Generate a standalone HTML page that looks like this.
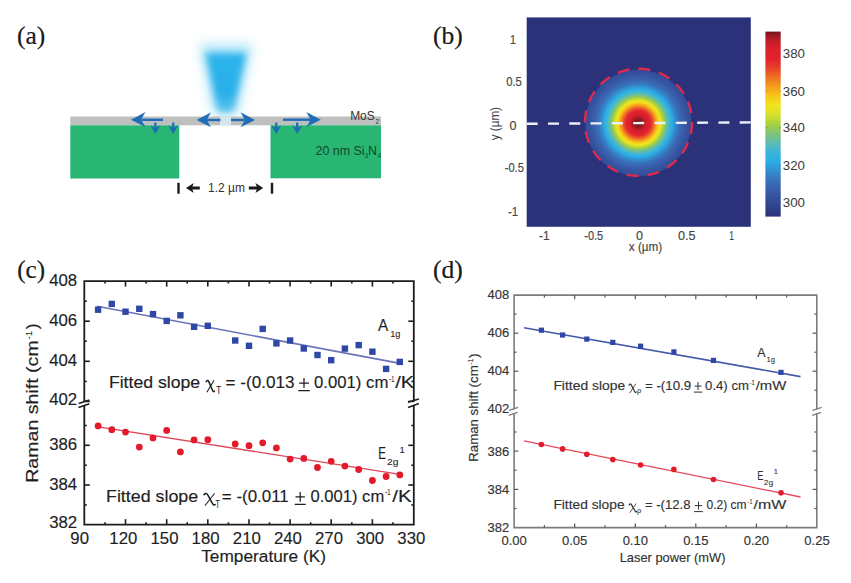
<!DOCTYPE html>
<html><head><meta charset="utf-8"><title>Figure</title>
<style>
html,body{margin:0;padding:0;background:#fff;}
svg{display:block;}
text{font-family:"Liberation Sans",sans-serif;}
.sf{font-family:"Liberation Serif",serif;}
</style></head><body>
<svg width="851" height="583" viewBox="0 0 851 583">
<defs>
<radialGradient id="spot" gradientUnits="userSpaceOnUse" cx="638.3" cy="123" r="53"><stop offset="0.0000" stop-color="#6e1418"/><stop offset="0.0094" stop-color="#6f1418"/><stop offset="0.0189" stop-color="#701419"/><stop offset="0.0283" stop-color="#731519"/><stop offset="0.0377" stop-color="#77151a"/><stop offset="0.0472" stop-color="#7d161c"/><stop offset="0.0566" stop-color="#83171d"/><stop offset="0.0660" stop-color="#8b181f"/><stop offset="0.0755" stop-color="#941921"/><stop offset="0.0849" stop-color="#9b1a23"/><stop offset="0.0943" stop-color="#a21b24"/><stop offset="0.1038" stop-color="#aa1b25"/><stop offset="0.1132" stop-color="#b21c26"/><stop offset="0.1226" stop-color="#bb1d27"/><stop offset="0.1321" stop-color="#c31d28"/><stop offset="0.1415" stop-color="#c81e29"/><stop offset="0.1509" stop-color="#ce1e2a"/><stop offset="0.1604" stop-color="#d41e2b"/><stop offset="0.1698" stop-color="#da1f2c"/><stop offset="0.1792" stop-color="#dd1f2c"/><stop offset="0.1887" stop-color="#de202d"/><stop offset="0.1981" stop-color="#df202d"/><stop offset="0.2075" stop-color="#e0212d"/><stop offset="0.2170" stop-color="#e2212e"/><stop offset="0.2264" stop-color="#e3222e"/><stop offset="0.2358" stop-color="#e4292d"/><stop offset="0.2453" stop-color="#e5322c"/><stop offset="0.2547" stop-color="#e63a2b"/><stop offset="0.2642" stop-color="#e8432a"/><stop offset="0.2736" stop-color="#e94e29"/><stop offset="0.2830" stop-color="#eb5a27"/><stop offset="0.2925" stop-color="#ec6626"/><stop offset="0.3019" stop-color="#ee7224"/><stop offset="0.3113" stop-color="#ef7e22"/><stop offset="0.3208" stop-color="#f18a20"/><stop offset="0.3302" stop-color="#f3961e"/><stop offset="0.3396" stop-color="#f4a21c"/><stop offset="0.3491" stop-color="#f5ad1b"/><stop offset="0.3585" stop-color="#f6b81b"/><stop offset="0.3679" stop-color="#f7c31a"/><stop offset="0.3774" stop-color="#f6cc1b"/><stop offset="0.3868" stop-color="#f4d41c"/><stop offset="0.3962" stop-color="#f3dc1d"/><stop offset="0.4057" stop-color="#f1e41e"/><stop offset="0.4151" stop-color="#e9e322"/><stop offset="0.4245" stop-color="#e1e225"/><stop offset="0.4340" stop-color="#dae129"/><stop offset="0.4434" stop-color="#d0df2e"/><stop offset="0.4528" stop-color="#c5da33"/><stop offset="0.4623" stop-color="#b9d638"/><stop offset="0.4717" stop-color="#add23e"/><stop offset="0.4811" stop-color="#a2ce48"/><stop offset="0.4906" stop-color="#98cb55"/><stop offset="0.5000" stop-color="#8dc863"/><stop offset="0.5094" stop-color="#83c570"/><stop offset="0.5189" stop-color="#7ac37e"/><stop offset="0.5283" stop-color="#72c18c"/><stop offset="0.5377" stop-color="#6abf9a"/><stop offset="0.5472" stop-color="#62bda8"/><stop offset="0.5566" stop-color="#5abbb4"/><stop offset="0.5660" stop-color="#52babd"/><stop offset="0.5755" stop-color="#4ab8c7"/><stop offset="0.5849" stop-color="#43b7d0"/><stop offset="0.5943" stop-color="#3bb6d8"/><stop offset="0.6038" stop-color="#38b4db"/><stop offset="0.6132" stop-color="#34b2de"/><stop offset="0.6226" stop-color="#30b1e1"/><stop offset="0.6321" stop-color="#2dafe4"/><stop offset="0.6415" stop-color="#2aade5"/><stop offset="0.6509" stop-color="#2ca7e1"/><stop offset="0.6604" stop-color="#2da1dd"/><stop offset="0.6698" stop-color="#2f9cd9"/><stop offset="0.6792" stop-color="#3097d5"/><stop offset="0.6887" stop-color="#3292d1"/><stop offset="0.6981" stop-color="#338dce"/><stop offset="0.7075" stop-color="#3488cb"/><stop offset="0.7170" stop-color="#3584c7"/><stop offset="0.7264" stop-color="#3580c4"/><stop offset="0.7358" stop-color="#367cc2"/><stop offset="0.7453" stop-color="#3778bf"/><stop offset="0.7547" stop-color="#3874bc"/><stop offset="0.7642" stop-color="#3871ba"/><stop offset="0.7736" stop-color="#396fb8"/><stop offset="0.7830" stop-color="#396cb6"/><stop offset="0.7925" stop-color="#396ab4"/><stop offset="0.8019" stop-color="#3968b2"/><stop offset="0.8113" stop-color="#3965b0"/><stop offset="0.8208" stop-color="#3a63af"/><stop offset="0.8302" stop-color="#3a61ad"/><stop offset="0.8396" stop-color="#3a5fab"/><stop offset="0.8491" stop-color="#395eaa"/><stop offset="0.8585" stop-color="#395ca8"/><stop offset="0.8679" stop-color="#385ba7"/><stop offset="0.8774" stop-color="#3859a5"/><stop offset="0.8868" stop-color="#3758a4"/><stop offset="0.8962" stop-color="#3757a3"/><stop offset="0.9057" stop-color="#3656a2"/><stop offset="0.9151" stop-color="#3654a0"/><stop offset="0.9245" stop-color="#35539f"/><stop offset="0.9340" stop-color="#35529e"/><stop offset="0.9434" stop-color="#34519d"/><stop offset="0.9528" stop-color="#34509c"/><stop offset="0.9623" stop-color="#344f9b"/><stop offset="0.9717" stop-color="#334e9a"/><stop offset="0.9811" stop-color="#334e9a"/><stop offset="0.9906" stop-color="#334d99"/><stop offset="1.0000" stop-color="#324c98"/></radialGradient>
<linearGradient id="beamg" x1="0" y1="0" x2="0" y2="1"><stop offset="0" stop-color="#2cb4ec"/><stop offset="0.7" stop-color="#28aee8"/><stop offset="1" stop-color="#5cc6f0"/></linearGradient>
<linearGradient id="cbar" x1="0" y1="0" x2="0" y2="1"><stop offset="0.000" stop-color="#6e1418"/><stop offset="0.010" stop-color="#83171d"/><stop offset="0.020" stop-color="#981a22"/><stop offset="0.030" stop-color="#a51b24"/><stop offset="0.040" stop-color="#b31c26"/><stop offset="0.050" stop-color="#c01d28"/><stop offset="0.060" stop-color="#c71e29"/><stop offset="0.070" stop-color="#ce1e2a"/><stop offset="0.080" stop-color="#d51e2b"/><stop offset="0.090" stop-color="#dc1f2c"/><stop offset="0.100" stop-color="#dd202c"/><stop offset="0.110" stop-color="#de202d"/><stop offset="0.120" stop-color="#e0202d"/><stop offset="0.130" stop-color="#e1212d"/><stop offset="0.140" stop-color="#e2222e"/><stop offset="0.150" stop-color="#e3222e"/><stop offset="0.160" stop-color="#e4292d"/><stop offset="0.170" stop-color="#e5302c"/><stop offset="0.180" stop-color="#e6372c"/><stop offset="0.190" stop-color="#e73e2b"/><stop offset="0.200" stop-color="#e8452a"/><stop offset="0.210" stop-color="#e94e29"/><stop offset="0.220" stop-color="#ea5828"/><stop offset="0.230" stop-color="#ec6126"/><stop offset="0.240" stop-color="#ed6b25"/><stop offset="0.250" stop-color="#ee7424"/><stop offset="0.260" stop-color="#ef7d22"/><stop offset="0.270" stop-color="#f08621"/><stop offset="0.280" stop-color="#f28e1f"/><stop offset="0.290" stop-color="#f3971e"/><stop offset="0.300" stop-color="#f4a01c"/><stop offset="0.310" stop-color="#f5a81c"/><stop offset="0.320" stop-color="#f5b01b"/><stop offset="0.330" stop-color="#f6b81b"/><stop offset="0.340" stop-color="#f6c01a"/><stop offset="0.350" stop-color="#f7c81a"/><stop offset="0.360" stop-color="#f6ce1b"/><stop offset="0.370" stop-color="#f5d31c"/><stop offset="0.380" stop-color="#f3d91c"/><stop offset="0.390" stop-color="#f2de1d"/><stop offset="0.400" stop-color="#f1e41e"/><stop offset="0.410" stop-color="#ebe321"/><stop offset="0.420" stop-color="#e5e224"/><stop offset="0.430" stop-color="#e0e226"/><stop offset="0.440" stop-color="#dae129"/><stop offset="0.450" stop-color="#d4e02c"/><stop offset="0.460" stop-color="#cbdd30"/><stop offset="0.470" stop-color="#c2da34"/><stop offset="0.480" stop-color="#bad638"/><stop offset="0.490" stop-color="#b1d33c"/><stop offset="0.500" stop-color="#a8d040"/><stop offset="0.510" stop-color="#a0ce4a"/><stop offset="0.520" stop-color="#98cb55"/><stop offset="0.530" stop-color="#90c95f"/><stop offset="0.540" stop-color="#88c66a"/><stop offset="0.550" stop-color="#80c474"/><stop offset="0.560" stop-color="#79c280"/><stop offset="0.570" stop-color="#73c18b"/><stop offset="0.580" stop-color="#6cbf97"/><stop offset="0.590" stop-color="#66bea2"/><stop offset="0.600" stop-color="#5fbcae"/><stop offset="0.610" stop-color="#58bbb6"/><stop offset="0.620" stop-color="#51babf"/><stop offset="0.630" stop-color="#4ab8c7"/><stop offset="0.640" stop-color="#43b7d0"/><stop offset="0.650" stop-color="#3cb6d8"/><stop offset="0.660" stop-color="#38b4db"/><stop offset="0.670" stop-color="#35b3de"/><stop offset="0.680" stop-color="#31b1e0"/><stop offset="0.690" stop-color="#2eb0e3"/><stop offset="0.700" stop-color="#2aaee6"/><stop offset="0.710" stop-color="#2ca8e2"/><stop offset="0.720" stop-color="#2da2dd"/><stop offset="0.730" stop-color="#2f9cd9"/><stop offset="0.740" stop-color="#3096d4"/><stop offset="0.750" stop-color="#3290d0"/><stop offset="0.760" stop-color="#338acc"/><stop offset="0.770" stop-color="#3485c8"/><stop offset="0.780" stop-color="#367fc4"/><stop offset="0.790" stop-color="#377ac0"/><stop offset="0.800" stop-color="#3874bc"/><stop offset="0.810" stop-color="#3870b9"/><stop offset="0.820" stop-color="#396cb6"/><stop offset="0.830" stop-color="#3968b2"/><stop offset="0.840" stop-color="#3a64af"/><stop offset="0.850" stop-color="#3a60ac"/><stop offset="0.860" stop-color="#395da9"/><stop offset="0.870" stop-color="#385aa6"/><stop offset="0.880" stop-color="#3656a2"/><stop offset="0.890" stop-color="#35539f"/><stop offset="0.900" stop-color="#34509c"/><stop offset="0.910" stop-color="#334d99"/><stop offset="0.920" stop-color="#324a96"/><stop offset="0.930" stop-color="#304894"/><stop offset="0.940" stop-color="#2f4591"/><stop offset="0.950" stop-color="#2e428e"/><stop offset="0.960" stop-color="#2d3f8a"/><stop offset="0.970" stop-color="#2d3c86"/><stop offset="0.980" stop-color="#2c3882"/><stop offset="0.990" stop-color="#2c357e"/><stop offset="1.000" stop-color="#2b327a"/></linearGradient>
<filter id="blur4" x="-50%" y="-50%" width="200%" height="200%"><feGaussianBlur stdDeviation="3.5"/></filter>
<filter id="blur8" x="-50%" y="-50%" width="200%" height="200%"><feGaussianBlur stdDeviation="6"/></filter>
<filter id="blur1" x="-20%" y="-20%" width="140%" height="140%"><feGaussianBlur stdDeviation="0.6"/></filter>
</defs>
<rect width="851" height="583" fill="#fff"/>

<text class="sf" x="17" y="43.9" font-size="25" fill="#1a1a1a" stroke="#1a1a1a" stroke-width="0.2" textLength="28.3" lengthAdjust="spacingAndGlyphs">(a)</text>
<polygon points="199,44 253,44 238,114 213,114" fill="#6ccff2" opacity="0.5" filter="url(#blur8)"/>
<polygon points="205.5,53 246.5,53 233,112 218,112" fill="url(#beamg)" filter="url(#blur4)"/>
<rect x="70.3" y="116.5" width="310.7" height="8.8" fill="#bebfbf"/>
<rect x="70.3" y="125.3" width="109" height="53.2" fill="#29b574"/>
<rect x="270.5" y="125.3" width="110.5" height="53" fill="#29b574"/>
<rect x="220" y="116.5" width="11" height="8.8" fill="#d4e6ee" filter="url(#blur1)"/>
<line x1="141.5" y1="119.8" x2="163.0" y2="119.8" stroke="#1f6db5" stroke-width="2.4"/><path d="M131.0,119.8 L145.5,112.1 Q141.5,118.8 141.5,119.8 Q141.5,120.8 145.5,127.1 Z" fill="#1f6db5"/>
<line x1="207.1" y1="120.0" x2="220.4" y2="120.0" stroke="#1f6db5" stroke-width="2.4"/><path d="M196.6,120.0 L211.1,112.3 Q207.1,119.0 207.1,120.0 Q207.1,121.0 211.1,127.3 Z" fill="#1f6db5"/>
<line x1="244.5" y1="120.0" x2="231.0" y2="120.0" stroke="#1f6db5" stroke-width="2.4"/><path d="M255.0,120.0 L240.5,112.3 Q244.5,119.0 244.5,120.0 Q244.5,121.0 240.5,127.3 Z" fill="#1f6db5"/>
<line x1="310.3" y1="119.7" x2="283.0" y2="119.7" stroke="#1f6db5" stroke-width="2.4"/><path d="M320.8,119.7 L306.3,112.0 Q310.3,118.7 310.3,119.7 Q310.3,120.7 306.3,127.0 Z" fill="#1f6db5"/>
<line x1="155.3" y1="122.5" x2="155.3" y2="129.0" stroke="#1f6db5" stroke-width="2.2"/><path d="M155.3,134.0 L150.3,125.5 Q155.3,128.0 155.3,128.0 Q155.3,128.0 160.3,125.5 Z" fill="#1f6db5"/>
<line x1="173.2" y1="122.5" x2="173.2" y2="129.0" stroke="#1f6db5" stroke-width="2.2"/><path d="M173.2,134.0 L168.2,125.5 Q173.2,128.0 173.2,128.0 Q173.2,128.0 178.2,125.5 Z" fill="#1f6db5"/>
<line x1="276.3" y1="122.5" x2="276.3" y2="129.0" stroke="#1f6db5" stroke-width="2.2"/><path d="M276.3,134.0 L271.3,125.5 Q276.3,128.0 276.3,128.0 Q276.3,128.0 281.3,125.5 Z" fill="#1f6db5"/>
<line x1="297.2" y1="122.5" x2="297.2" y2="129.0" stroke="#1f6db5" stroke-width="2.2"/><path d="M297.2,134.0 L292.2,125.5 Q297.2,128.0 297.2,128.0 Q297.2,128.0 302.2,125.5 Z" fill="#1f6db5"/>
<text x="350.2" y="119.5" font-size="12.3" fill="#333" textLength="24.5" lengthAdjust="spacingAndGlyphs">MoS</text>
<text x="375.4" y="124" font-size="6.5" fill="#333">2</text>
<text x="315.6" y="154.6" font-size="12.3" fill="#0e4a26" textLength="49" lengthAdjust="spacingAndGlyphs">20 nm Si</text>
<text x="364.6" y="158" font-size="6.5" fill="#0e4a26">3</text>
<text x="368" y="154.6" font-size="12.3" fill="#0e4a26">N</text>
<text x="377.4" y="158" font-size="6.5" fill="#0e4a26">4</text>
<rect x="177.3" y="182.8" width="2.4" height="10.9" fill="#1a1a1a"/>
<rect x="270.8" y="182.8" width="2.4" height="10.9" fill="#1a1a1a"/>
<path d="M186,188 L193.8,183 L192.4,186.6 L199.8,186.6 L199.8,189.4 L192.4,189.4 L193.8,193 Z" fill="#1a1a1a"/>
<path d="M263.2,188 L255.4,183 L256.8,186.6 L248.8,186.6 L248.8,189.4 L256.8,189.4 L255.4,193 Z" fill="#1a1a1a"/>
<text x="208.1" y="191.8" font-size="12.3" fill="#333" textLength="36.9" lengthAdjust="spacingAndGlyphs">1.2 µm</text>
<text class="sf" x="433" y="44" font-size="25" fill="#1a1a1a" stroke="#1a1a1a" stroke-width="0.2" textLength="29.8" lengthAdjust="spacingAndGlyphs">(b)</text>
<rect x="526.7" y="17.4" width="224.1" height="209.4" fill="#2b327a"/>
<circle cx="638.3" cy="123" r="53" fill="url(#spot)"/>
<circle cx="638.5" cy="122.3" r="53.6" fill="none" stroke="#de2a4c" stroke-width="2.4" stroke-dasharray="12 9"/>
<line x1="526.7" y1="123.8" x2="750.8" y2="122.4" stroke="#eef0f8" stroke-width="2.4" stroke-dasharray="11 10.3"/>
<rect x="765.4" y="31.6" width="15.3" height="185" fill="url(#cbar)"/>
<line x1="765.4" y1="53.9" x2="767" y2="53.9" stroke="#333" stroke-width="0.6" opacity="0.5"/>
<line x1="779.1" y1="53.9" x2="780.7" y2="53.9" stroke="#333" stroke-width="0.6" opacity="0.5"/>
<text x="782.8" y="58.4" font-size="12.8" fill="#3a3a3a" textLength="22.2" lengthAdjust="spacingAndGlyphs">380</text>
<line x1="765.4" y1="91.2" x2="767" y2="91.2" stroke="#333" stroke-width="0.6" opacity="0.5"/>
<line x1="779.1" y1="91.2" x2="780.7" y2="91.2" stroke="#333" stroke-width="0.6" opacity="0.5"/>
<text x="782.8" y="95.7" font-size="12.8" fill="#3a3a3a" textLength="22.2" lengthAdjust="spacingAndGlyphs">360</text>
<line x1="765.4" y1="127.8" x2="767" y2="127.8" stroke="#333" stroke-width="0.6" opacity="0.5"/>
<line x1="779.1" y1="127.8" x2="780.7" y2="127.8" stroke="#333" stroke-width="0.6" opacity="0.5"/>
<text x="782.8" y="132.3" font-size="12.8" fill="#3a3a3a" textLength="22.2" lengthAdjust="spacingAndGlyphs">340</text>
<line x1="765.4" y1="165.3" x2="767" y2="165.3" stroke="#333" stroke-width="0.6" opacity="0.5"/>
<line x1="779.1" y1="165.3" x2="780.7" y2="165.3" stroke="#333" stroke-width="0.6" opacity="0.5"/>
<text x="782.8" y="169.8" font-size="12.8" fill="#3a3a3a" textLength="22.2" lengthAdjust="spacingAndGlyphs">320</text>
<line x1="765.4" y1="202.3" x2="767" y2="202.3" stroke="#333" stroke-width="0.6" opacity="0.5"/>
<line x1="779.1" y1="202.3" x2="780.7" y2="202.3" stroke="#333" stroke-width="0.6" opacity="0.5"/>
<text x="782.8" y="206.8" font-size="12.8" fill="#3a3a3a" textLength="22.2" lengthAdjust="spacingAndGlyphs">300</text>
<text x="510.1" y="43.9" font-size="12.8" fill="#444" stroke="#444" stroke-width="0.15" textLength="5.9" lengthAdjust="spacingAndGlyphs">1</text>
<text x="506.2" y="85.5" font-size="12.8" fill="#444" stroke="#444" stroke-width="0.15" textLength="15.7" lengthAdjust="spacingAndGlyphs">0.5</text>
<text x="509.5" y="129.7" font-size="12.8" fill="#444" stroke="#444" stroke-width="0.15" textLength="7.0" lengthAdjust="spacingAndGlyphs">0</text>
<text x="504.7" y="172.0" font-size="12.8" fill="#444" stroke="#444" stroke-width="0.15" textLength="19.2" lengthAdjust="spacingAndGlyphs">-0.5</text>
<text x="507.9" y="215.7" font-size="12.8" fill="#444" stroke="#444" stroke-width="0.15" textLength="10.2" lengthAdjust="spacingAndGlyphs">-1</text>
<text x="539.1" y="239.7" font-size="12.3" fill="#444" stroke="#444" stroke-width="0.15" textLength="10.6" lengthAdjust="spacingAndGlyphs">-1</text>
<text x="584.3" y="239.7" font-size="12.3" fill="#444" stroke="#444" stroke-width="0.15" textLength="18.9" lengthAdjust="spacingAndGlyphs">-0.5</text>
<text x="635.9" y="239.7" font-size="12.3" fill="#444" stroke="#444" stroke-width="0.15" textLength="7.0" lengthAdjust="spacingAndGlyphs">0</text>
<text x="678.1" y="239.7" font-size="12.3" fill="#444" stroke="#444" stroke-width="0.15" textLength="17.5" lengthAdjust="spacingAndGlyphs">0.5</text>
<text x="729.3" y="239.7" font-size="12.3" fill="#444" stroke="#444" stroke-width="0.15" textLength="4.8" lengthAdjust="spacingAndGlyphs">1</text>
<text x="628.8" y="251.0" font-size="12.3" fill="#444" stroke="#444" stroke-width="0.15" textLength="33.4" lengthAdjust="spacingAndGlyphs">x (µm)</text>
<text transform="translate(499.2,140.2) rotate(-90)" x="0" y="0" font-size="12.3" fill="#444" textLength="33.2" lengthAdjust="spacingAndGlyphs">y (µm)</text>
<text class="sf" x="17.2" y="278.4" font-size="25" fill="#1a1a1a" stroke="#1a1a1a" stroke-width="0.2" textLength="27.8" lengthAdjust="spacingAndGlyphs">(c)</text>
<path d="M84.3,401.8 L84.3,281.1 L413.8,281.1 L413.8,401.8" fill="none" stroke="#1c1c1c" stroke-width="1.80" stroke-linejoin="miter"/><path d="M84.3,405.2 L84.3,524.7 L413.8,524.7 L413.8,405.2" fill="none" stroke="#1c1c1c" stroke-width="1.80" stroke-linejoin="miter"/><line x1="78.7" y1="403.4" x2="89.3" y2="399.9" stroke="#1c1c1c" stroke-width="1.60"/><line x1="78.5" y1="407.6" x2="89.3" y2="403.7" stroke="#1c1c1c" stroke-width="1.60"/><line x1="407.9" y1="402.2" x2="418.9" y2="399.1" stroke="#1c1c1c" stroke-width="1.60"/><line x1="408.1" y1="407.6" x2="418.9" y2="403.4" stroke="#1c1c1c" stroke-width="1.60"/><line x1="84.3" y1="301.2" x2="86.7" y2="301.2" stroke="#1c1c1c" stroke-width="1.60"/><line x1="413.8" y1="301.2" x2="411.4" y2="301.2" stroke="#1c1c1c" stroke-width="1.60"/><line x1="84.3" y1="321.2" x2="89.8" y2="321.2" stroke="#1c1c1c" stroke-width="1.60"/><line x1="413.8" y1="321.2" x2="408.3" y2="321.2" stroke="#1c1c1c" stroke-width="1.60"/><line x1="84.3" y1="341.2" x2="86.7" y2="341.2" stroke="#1c1c1c" stroke-width="1.60"/><line x1="413.8" y1="341.2" x2="411.4" y2="341.2" stroke="#1c1c1c" stroke-width="1.60"/><line x1="84.3" y1="361.3" x2="89.8" y2="361.3" stroke="#1c1c1c" stroke-width="1.60"/><line x1="413.8" y1="361.3" x2="408.3" y2="361.3" stroke="#1c1c1c" stroke-width="1.60"/><line x1="84.3" y1="381.4" x2="86.7" y2="381.4" stroke="#1c1c1c" stroke-width="1.60"/><line x1="413.8" y1="381.4" x2="411.4" y2="381.4" stroke="#1c1c1c" stroke-width="1.60"/><line x1="84.3" y1="401.4" x2="89.8" y2="401.4" stroke="#1c1c1c" stroke-width="1.60"/><line x1="413.8" y1="401.4" x2="408.3" y2="401.4" stroke="#1c1c1c" stroke-width="1.60"/><line x1="84.3" y1="425.5" x2="86.7" y2="425.5" stroke="#1c1c1c" stroke-width="1.60"/><line x1="413.8" y1="425.5" x2="411.4" y2="425.5" stroke="#1c1c1c" stroke-width="1.60"/><line x1="84.3" y1="445.3" x2="89.8" y2="445.3" stroke="#1c1c1c" stroke-width="1.60"/><line x1="413.8" y1="445.3" x2="408.3" y2="445.3" stroke="#1c1c1c" stroke-width="1.60"/><line x1="84.3" y1="465.2" x2="86.7" y2="465.2" stroke="#1c1c1c" stroke-width="1.60"/><line x1="413.8" y1="465.2" x2="411.4" y2="465.2" stroke="#1c1c1c" stroke-width="1.60"/><line x1="84.3" y1="485.0" x2="89.8" y2="485.0" stroke="#1c1c1c" stroke-width="1.60"/><line x1="413.8" y1="485.0" x2="408.3" y2="485.0" stroke="#1c1c1c" stroke-width="1.60"/><line x1="84.3" y1="504.9" x2="86.7" y2="504.9" stroke="#1c1c1c" stroke-width="1.60"/><line x1="413.8" y1="504.9" x2="411.4" y2="504.9" stroke="#1c1c1c" stroke-width="1.60"/><line x1="105.0" y1="524.7" x2="105.0" y2="522.3" stroke="#1c1c1c" stroke-width="1.60"/><line x1="105.0" y1="281.1" x2="105.0" y2="283.5" stroke="#1c1c1c" stroke-width="1.60"/><line x1="125.5" y1="524.7" x2="125.5" y2="519.2" stroke="#1c1c1c" stroke-width="1.60"/><line x1="125.5" y1="281.1" x2="125.5" y2="286.6" stroke="#1c1c1c" stroke-width="1.60"/><line x1="146.1" y1="524.7" x2="146.1" y2="522.3" stroke="#1c1c1c" stroke-width="1.60"/><line x1="146.1" y1="281.1" x2="146.1" y2="283.5" stroke="#1c1c1c" stroke-width="1.60"/><line x1="166.7" y1="524.7" x2="166.7" y2="519.2" stroke="#1c1c1c" stroke-width="1.60"/><line x1="166.7" y1="281.1" x2="166.7" y2="286.6" stroke="#1c1c1c" stroke-width="1.60"/><line x1="187.2" y1="524.7" x2="187.2" y2="522.3" stroke="#1c1c1c" stroke-width="1.60"/><line x1="187.2" y1="281.1" x2="187.2" y2="283.5" stroke="#1c1c1c" stroke-width="1.60"/><line x1="207.8" y1="524.7" x2="207.8" y2="519.2" stroke="#1c1c1c" stroke-width="1.60"/><line x1="207.8" y1="281.1" x2="207.8" y2="286.6" stroke="#1c1c1c" stroke-width="1.60"/><line x1="228.4" y1="524.7" x2="228.4" y2="522.3" stroke="#1c1c1c" stroke-width="1.60"/><line x1="228.4" y1="281.1" x2="228.4" y2="283.5" stroke="#1c1c1c" stroke-width="1.60"/><line x1="249.0" y1="524.7" x2="249.0" y2="519.2" stroke="#1c1c1c" stroke-width="1.60"/><line x1="249.0" y1="281.1" x2="249.0" y2="286.6" stroke="#1c1c1c" stroke-width="1.60"/><line x1="269.5" y1="524.7" x2="269.5" y2="522.3" stroke="#1c1c1c" stroke-width="1.60"/><line x1="269.5" y1="281.1" x2="269.5" y2="283.5" stroke="#1c1c1c" stroke-width="1.60"/><line x1="290.1" y1="524.7" x2="290.1" y2="519.2" stroke="#1c1c1c" stroke-width="1.60"/><line x1="290.1" y1="281.1" x2="290.1" y2="286.6" stroke="#1c1c1c" stroke-width="1.60"/><line x1="310.7" y1="524.7" x2="310.7" y2="522.3" stroke="#1c1c1c" stroke-width="1.60"/><line x1="310.7" y1="281.1" x2="310.7" y2="283.5" stroke="#1c1c1c" stroke-width="1.60"/><line x1="331.2" y1="524.7" x2="331.2" y2="519.2" stroke="#1c1c1c" stroke-width="1.60"/><line x1="331.2" y1="281.1" x2="331.2" y2="286.6" stroke="#1c1c1c" stroke-width="1.60"/><line x1="351.8" y1="524.7" x2="351.8" y2="522.3" stroke="#1c1c1c" stroke-width="1.60"/><line x1="351.8" y1="281.1" x2="351.8" y2="283.5" stroke="#1c1c1c" stroke-width="1.60"/><line x1="372.4" y1="524.7" x2="372.4" y2="519.2" stroke="#1c1c1c" stroke-width="1.60"/><line x1="372.4" y1="281.1" x2="372.4" y2="286.6" stroke="#1c1c1c" stroke-width="1.60"/><line x1="392.9" y1="524.7" x2="392.9" y2="522.3" stroke="#1c1c1c" stroke-width="1.60"/><line x1="392.9" y1="281.1" x2="392.9" y2="283.5" stroke="#1c1c1c" stroke-width="1.60"/>
<text x="77.2" y="285.8" font-size="16.8" fill="#1e1e1e" stroke="#1e1e1e" stroke-width="0.15" text-anchor="end">408</text>
<text x="77.2" y="325.9" font-size="16.8" fill="#1e1e1e" stroke="#1e1e1e" stroke-width="0.15" text-anchor="end">406</text>
<text x="77.2" y="366.0" font-size="16.8" fill="#1e1e1e" stroke="#1e1e1e" stroke-width="0.15" text-anchor="end">404</text>
<text x="77.2" y="404.9" font-size="16.8" fill="#1e1e1e" stroke="#1e1e1e" stroke-width="0.15" text-anchor="end">402</text>
<text x="77.2" y="450.0" font-size="16.8" fill="#1e1e1e" stroke="#1e1e1e" stroke-width="0.15" text-anchor="end">386</text>
<text x="77.2" y="489.7" font-size="16.8" fill="#1e1e1e" stroke="#1e1e1e" stroke-width="0.15" text-anchor="end">384</text>
<text x="77.2" y="528.2" font-size="16.8" fill="#1e1e1e" stroke="#1e1e1e" stroke-width="0.15" text-anchor="end">382</text>
<text x="79.7" y="543.6" font-size="16.8" fill="#1e1e1e" stroke="#1e1e1e" stroke-width="0.15" text-anchor="middle">90</text>
<text x="123.3" y="543.6" font-size="16.8" fill="#1e1e1e" stroke="#1e1e1e" stroke-width="0.15" text-anchor="middle">120</text>
<text x="164.5" y="543.6" font-size="16.8" fill="#1e1e1e" stroke="#1e1e1e" stroke-width="0.15" text-anchor="middle">150</text>
<text x="205.6" y="543.6" font-size="16.8" fill="#1e1e1e" stroke="#1e1e1e" stroke-width="0.15" text-anchor="middle">180</text>
<text x="246.8" y="543.6" font-size="16.8" fill="#1e1e1e" stroke="#1e1e1e" stroke-width="0.15" text-anchor="middle">210</text>
<text x="287.9" y="543.6" font-size="16.8" fill="#1e1e1e" stroke="#1e1e1e" stroke-width="0.15" text-anchor="middle">240</text>
<text x="329.0" y="543.6" font-size="16.8" fill="#1e1e1e" stroke="#1e1e1e" stroke-width="0.15" text-anchor="middle">270</text>
<text x="370.2" y="543.6" font-size="16.8" fill="#1e1e1e" stroke="#1e1e1e" stroke-width="0.15" text-anchor="middle">300</text>
<text x="411.3" y="543.6" font-size="16.8" fill="#1e1e1e" stroke="#1e1e1e" stroke-width="0.15" text-anchor="middle">330</text>
<text x="201.2" y="562.3" font-size="16.3" fill="#1e1e1e" stroke="#1e1e1e" stroke-width="0.15" textLength="124.8" lengthAdjust="spacingAndGlyphs">Temperature (K)</text>
<g transform="translate(38.4,482.8) rotate(-90)"><text x="0.0" y="0.0" font-size="16.3" fill="#1e1e1e" stroke="#1e1e1e" stroke-width="0.15" textLength="142.5" lengthAdjust="spacingAndGlyphs">Raman shift (cm</text><text x="143.4" y="-6.6" font-size="9.5" fill="#1e1e1e" stroke="#1e1e1e" stroke-width="0.09" textLength="8.6" lengthAdjust="spacingAndGlyphs">-1</text><text x="153.5" y="0.0" font-size="16.3" fill="#1e1e1e" stroke="#1e1e1e" stroke-width="0.15" textLength="5.8" lengthAdjust="spacingAndGlyphs">)</text></g>
<line x1="97" y1="306.2" x2="400" y2="363.4" stroke="#6874b6" stroke-width="1.6"/>
<line x1="97" y1="426.6" x2="400" y2="474.4" stroke="#dc4658" stroke-width="1.4"/>
<rect x="94.9" y="306.5" width="6.4" height="6.4" fill="#2f47a6"/>
<rect x="108.6" y="300.7" width="6.4" height="6.4" fill="#2f47a6"/>
<rect x="122.3" y="308.5" width="6.4" height="6.4" fill="#2f47a6"/>
<rect x="136.1" y="305.6" width="6.4" height="6.4" fill="#2f47a6"/>
<rect x="149.8" y="310.9" width="6.4" height="6.4" fill="#2f47a6"/>
<rect x="163.5" y="317.7" width="6.4" height="6.4" fill="#2f47a6"/>
<rect x="177.2" y="312.1" width="6.4" height="6.4" fill="#2f47a6"/>
<rect x="190.9" y="323.6" width="6.4" height="6.4" fill="#2f47a6"/>
<rect x="204.6" y="322.6" width="6.4" height="6.4" fill="#2f47a6"/>
<rect x="232.0" y="337.3" width="6.4" height="6.4" fill="#2f47a6"/>
<rect x="245.8" y="342.6" width="6.4" height="6.4" fill="#2f47a6"/>
<rect x="259.5" y="325.7" width="6.4" height="6.4" fill="#2f47a6"/>
<rect x="273.2" y="340.2" width="6.4" height="6.4" fill="#2f47a6"/>
<rect x="286.9" y="337.3" width="6.4" height="6.4" fill="#2f47a6"/>
<rect x="300.6" y="345.3" width="6.4" height="6.4" fill="#2f47a6"/>
<rect x="314.3" y="351.8" width="6.4" height="6.4" fill="#2f47a6"/>
<rect x="328.0" y="357.0" width="6.4" height="6.4" fill="#2f47a6"/>
<rect x="341.7" y="345.4" width="6.4" height="6.4" fill="#2f47a6"/>
<rect x="355.5" y="341.9" width="6.4" height="6.4" fill="#2f47a6"/>
<rect x="369.2" y="348.5" width="6.4" height="6.4" fill="#2f47a6"/>
<rect x="382.9" y="365.7" width="6.4" height="6.4" fill="#2f47a6"/>
<rect x="396.6" y="358.7" width="6.4" height="6.4" fill="#2f47a6"/>
<circle cx="98.1" cy="425.9" r="3.4" fill="#e21b2c"/>
<circle cx="111.8" cy="429.7" r="3.4" fill="#e21b2c"/>
<circle cx="125.5" cy="432.1" r="3.4" fill="#e21b2c"/>
<circle cx="139.3" cy="447.1" r="3.4" fill="#e21b2c"/>
<circle cx="153.0" cy="437.9" r="3.4" fill="#e21b2c"/>
<circle cx="166.7" cy="430.4" r="3.4" fill="#e21b2c"/>
<circle cx="180.4" cy="451.9" r="3.4" fill="#e21b2c"/>
<circle cx="194.1" cy="439.9" r="3.4" fill="#e21b2c"/>
<circle cx="207.8" cy="439.7" r="3.4" fill="#e21b2c"/>
<circle cx="235.2" cy="444.0" r="3.4" fill="#e21b2c"/>
<circle cx="249.0" cy="445.7" r="3.4" fill="#e21b2c"/>
<circle cx="262.7" cy="442.8" r="3.4" fill="#e21b2c"/>
<circle cx="276.4" cy="447.9" r="3.4" fill="#e21b2c"/>
<circle cx="290.1" cy="459.1" r="3.4" fill="#e21b2c"/>
<circle cx="303.8" cy="458.4" r="3.4" fill="#e21b2c"/>
<circle cx="317.5" cy="467.5" r="3.4" fill="#e21b2c"/>
<circle cx="331.2" cy="461.3" r="3.4" fill="#e21b2c"/>
<circle cx="344.9" cy="466.1" r="3.4" fill="#e21b2c"/>
<circle cx="358.7" cy="469.5" r="3.4" fill="#e21b2c"/>
<circle cx="372.4" cy="480.5" r="3.4" fill="#e21b2c"/>
<circle cx="386.1" cy="476.5" r="3.4" fill="#e21b2c"/>
<circle cx="399.8" cy="474.9" r="3.4" fill="#e21b2c"/>
<text x="378.0" y="330.8" font-size="16.5" fill="#1e1e1e" stroke="#1e1e1e" stroke-width="0.15" textLength="10.2" lengthAdjust="spacingAndGlyphs">A</text>
<text x="390.2" y="337.2" font-size="9.5" fill="#1e1e1e" stroke="#1e1e1e" stroke-width="0.09" textLength="10.2" lengthAdjust="spacingAndGlyphs">1g</text>
<text x="378.2" y="458.9" font-size="17.0" fill="#1e1e1e" stroke="#1e1e1e" stroke-width="0.15" textLength="7.8" lengthAdjust="spacingAndGlyphs">E</text>
<text x="387.0" y="464.9" font-size="9.5" fill="#1e1e1e" stroke="#1e1e1e" stroke-width="0.09" textLength="11.4" lengthAdjust="spacingAndGlyphs">2g</text>
<text x="399.6" y="452.6" font-size="9.5" fill="#1e1e1e" stroke="#1e1e1e" stroke-width="0.09">1</text>
<text x="108.9" y="387.8" font-size="16.3" fill="#1e1e1e" stroke="#1e1e1e" stroke-width="0.15" textLength="91.3" lengthAdjust="spacingAndGlyphs">Fitted slope</text><path d="M206.2,381.6 Q207.7,379.6 208.8,381.6 L212.6,390.5 Q213.4,392.5 214.4,391.1" fill="none" stroke="#1e1e1e" stroke-width="1.50" stroke-linecap="round"/><path d="M214.0,380.2 L206.9,392.3" fill="none" stroke="#1e1e1e" stroke-width="1.05"/><text x="216.2" y="394.1" font-size="10.3" fill="#1e1e1e" stroke="#1e1e1e" stroke-width="0.09" textLength="4.9" lengthAdjust="spacingAndGlyphs">T</text><text x="225.6" y="387.8" font-size="16.3" fill="#1e1e1e" stroke="#1e1e1e" stroke-width="0.15" textLength="69.0" lengthAdjust="spacingAndGlyphs">= -(0.013</text><path d="M299.1,383.0 L309.0,383.0 M304.0,378.1 L304.0,388.0 M298.3,390.6 L309.8,390.6" stroke="#1e1e1e" stroke-width="1.25" fill="none"/><text x="314.0" y="387.8" font-size="16.3" fill="#1e1e1e" stroke="#1e1e1e" stroke-width="0.15" textLength="74.4" lengthAdjust="spacingAndGlyphs">0.001) cm</text><text x="389.3" y="381.6" font-size="8.8" fill="#1e1e1e" stroke="#1e1e1e" stroke-width="0.09" textLength="5.0" lengthAdjust="spacingAndGlyphs">-1</text><text x="395.2" y="387.8" font-size="16.3" fill="#1e1e1e" stroke="#1e1e1e" stroke-width="0.15" textLength="19.0" lengthAdjust="spacingAndGlyphs">/K</text>
<text x="106.0" y="501.6" font-size="16.3" fill="#1e1e1e" stroke="#1e1e1e" stroke-width="0.15" textLength="92.2" lengthAdjust="spacingAndGlyphs">Fitted slope</text><path d="M204.0,494.6 Q206.0,492.6 207.6,494.6 L212.7,503.9 Q213.9,505.9 215.2,504.5" fill="none" stroke="#1e1e1e" stroke-width="1.50" stroke-linecap="round"/><path d="M214.6,493.2 L204.9,505.7" fill="none" stroke="#1e1e1e" stroke-width="1.05"/><text x="215.4" y="507.6" font-size="10.3" fill="#1e1e1e" stroke="#1e1e1e" stroke-width="0.09" textLength="4.2" lengthAdjust="spacingAndGlyphs">T</text><text x="221.8" y="501.6" font-size="16.3" fill="#1e1e1e" stroke="#1e1e1e" stroke-width="0.15" textLength="67.0" lengthAdjust="spacingAndGlyphs">= -(0.011</text><path d="M295.5,496.8 L304.9,496.8 M300.2,491.9 L300.2,501.8 M294.7,504.4 L305.7,504.4" stroke="#1e1e1e" stroke-width="1.25" fill="none"/><text x="310.5" y="501.6" font-size="16.3" fill="#1e1e1e" stroke="#1e1e1e" stroke-width="0.15" textLength="73.7" lengthAdjust="spacingAndGlyphs">0.001) cm</text><text x="385.2" y="495.4" font-size="8.8" fill="#1e1e1e" stroke="#1e1e1e" stroke-width="0.09" textLength="5.3" lengthAdjust="spacingAndGlyphs">-1</text><text x="392.3" y="501.6" font-size="16.3" fill="#1e1e1e" stroke="#1e1e1e" stroke-width="0.15" textLength="19.4" lengthAdjust="spacingAndGlyphs">/K</text>
<text class="sf" x="433" y="278" font-size="25" fill="#1a1a1a" stroke="#1a1a1a" stroke-width="0.2" textLength="29.8" lengthAdjust="spacingAndGlyphs">(d)</text>
<path d="M514.1,409.2 L514.1,295.1 L816.8,295.1 L816.8,409.2" fill="none" stroke="#7c7c7c" stroke-width="1.60" stroke-linejoin="miter"/><path d="M514.1,413.2 L514.1,527.6 L816.8,527.6 L816.8,413.2" fill="none" stroke="#7c7c7c" stroke-width="1.60" stroke-linejoin="miter"/><line x1="509.0" y1="410.4" x2="518.2" y2="407.3" stroke="#7c7c7c" stroke-width="1.30"/><line x1="508.7" y1="415.4" x2="517.6" y2="412.3" stroke="#7c7c7c" stroke-width="1.30"/><line x1="812.5" y1="410.4" x2="821.7" y2="407.3" stroke="#7c7c7c" stroke-width="1.30"/><line x1="812.2" y1="415.4" x2="821.1" y2="412.3" stroke="#7c7c7c" stroke-width="1.30"/><line x1="514.1" y1="314.1" x2="516.5" y2="314.1" stroke="#555" stroke-width="1.20"/><line x1="816.8" y1="314.1" x2="814.4" y2="314.1" stroke="#555" stroke-width="1.20"/><line x1="514.1" y1="333.2" x2="518.3" y2="333.2" stroke="#555" stroke-width="1.20"/><line x1="816.8" y1="333.2" x2="812.6" y2="333.2" stroke="#555" stroke-width="1.20"/><line x1="514.1" y1="352.2" x2="516.5" y2="352.2" stroke="#555" stroke-width="1.20"/><line x1="816.8" y1="352.2" x2="814.4" y2="352.2" stroke="#555" stroke-width="1.20"/><line x1="514.1" y1="371.2" x2="518.3" y2="371.2" stroke="#555" stroke-width="1.20"/><line x1="816.8" y1="371.2" x2="812.6" y2="371.2" stroke="#555" stroke-width="1.20"/><line x1="514.1" y1="390.2" x2="516.5" y2="390.2" stroke="#555" stroke-width="1.20"/><line x1="816.8" y1="390.2" x2="814.4" y2="390.2" stroke="#555" stroke-width="1.20"/><line x1="514.1" y1="432.0" x2="516.5" y2="432.0" stroke="#555" stroke-width="1.20"/><line x1="816.8" y1="432.0" x2="814.4" y2="432.0" stroke="#555" stroke-width="1.20"/><line x1="514.1" y1="451.1" x2="518.3" y2="451.1" stroke="#555" stroke-width="1.20"/><line x1="816.8" y1="451.1" x2="812.6" y2="451.1" stroke="#555" stroke-width="1.20"/><line x1="514.1" y1="470.2" x2="516.5" y2="470.2" stroke="#555" stroke-width="1.20"/><line x1="816.8" y1="470.2" x2="814.4" y2="470.2" stroke="#555" stroke-width="1.20"/><line x1="514.1" y1="489.4" x2="518.3" y2="489.4" stroke="#555" stroke-width="1.20"/><line x1="816.8" y1="489.4" x2="812.6" y2="489.4" stroke="#555" stroke-width="1.20"/><line x1="514.1" y1="508.5" x2="516.5" y2="508.5" stroke="#555" stroke-width="1.20"/><line x1="816.8" y1="508.5" x2="814.4" y2="508.5" stroke="#555" stroke-width="1.20"/><line x1="544.4" y1="527.6" x2="544.4" y2="525.2" stroke="#555" stroke-width="1.20"/><line x1="544.4" y1="295.1" x2="544.4" y2="297.5" stroke="#555" stroke-width="1.20"/><line x1="574.7" y1="527.6" x2="574.7" y2="523.4" stroke="#555" stroke-width="1.20"/><line x1="574.7" y1="295.1" x2="574.7" y2="299.3" stroke="#555" stroke-width="1.20"/><line x1="605.0" y1="527.6" x2="605.0" y2="525.2" stroke="#555" stroke-width="1.20"/><line x1="605.0" y1="295.1" x2="605.0" y2="297.5" stroke="#555" stroke-width="1.20"/><line x1="635.3" y1="527.6" x2="635.3" y2="523.4" stroke="#555" stroke-width="1.20"/><line x1="635.3" y1="295.1" x2="635.3" y2="299.3" stroke="#555" stroke-width="1.20"/><line x1="665.5" y1="527.6" x2="665.5" y2="525.2" stroke="#555" stroke-width="1.20"/><line x1="665.5" y1="295.1" x2="665.5" y2="297.5" stroke="#555" stroke-width="1.20"/><line x1="695.8" y1="527.6" x2="695.8" y2="523.4" stroke="#555" stroke-width="1.20"/><line x1="695.8" y1="295.1" x2="695.8" y2="299.3" stroke="#555" stroke-width="1.20"/><line x1="726.1" y1="527.6" x2="726.1" y2="525.2" stroke="#555" stroke-width="1.20"/><line x1="726.1" y1="295.1" x2="726.1" y2="297.5" stroke="#555" stroke-width="1.20"/><line x1="756.4" y1="527.6" x2="756.4" y2="523.4" stroke="#555" stroke-width="1.20"/><line x1="756.4" y1="295.1" x2="756.4" y2="299.3" stroke="#555" stroke-width="1.20"/><line x1="786.7" y1="527.6" x2="786.7" y2="525.2" stroke="#555" stroke-width="1.20"/><line x1="786.7" y1="295.1" x2="786.7" y2="297.5" stroke="#555" stroke-width="1.20"/>
<text x="509.3" y="298.8" font-size="13.0" fill="#333" stroke="#333" stroke-width="0.15" text-anchor="end">408</text>
<text x="509.3" y="336.9" font-size="13.0" fill="#333" stroke="#333" stroke-width="0.15" text-anchor="end">406</text>
<text x="509.3" y="374.9" font-size="13.0" fill="#333" stroke="#333" stroke-width="0.15" text-anchor="end">404</text>
<text x="509.3" y="413.2" font-size="13.0" fill="#333" stroke="#333" stroke-width="0.15" text-anchor="end">402</text>
<text x="509.3" y="455.8" font-size="13.0" fill="#333" stroke="#333" stroke-width="0.15" text-anchor="end">386</text>
<text x="509.3" y="494.1" font-size="13.0" fill="#333" stroke="#333" stroke-width="0.15" text-anchor="end">384</text>
<text x="509.3" y="532.3" font-size="13.0" fill="#333" stroke="#333" stroke-width="0.15" text-anchor="end">382</text>
<text x="514.1" y="544.6" font-size="13.0" fill="#333" stroke="#333" stroke-width="0.15" text-anchor="middle">0.00</text>
<text x="574.7" y="544.6" font-size="13.0" fill="#333" stroke="#333" stroke-width="0.15" text-anchor="middle">0.05</text>
<text x="635.3" y="544.6" font-size="13.0" fill="#333" stroke="#333" stroke-width="0.15" text-anchor="middle">0.10</text>
<text x="695.8" y="544.6" font-size="13.0" fill="#333" stroke="#333" stroke-width="0.15" text-anchor="middle">0.15</text>
<text x="756.4" y="544.6" font-size="13.0" fill="#333" stroke="#333" stroke-width="0.15" text-anchor="middle">0.20</text>
<text x="817.0" y="544.6" font-size="13.0" fill="#333" stroke="#333" stroke-width="0.15" text-anchor="middle">0.25</text>
<text x="619.7" y="561.7" font-size="12.8" fill="#333" stroke="#333" stroke-width="0.15" textLength="105.8" lengthAdjust="spacingAndGlyphs">Laser power (mW)</text>
<g transform="translate(478.4,461.8) rotate(-90)"><text x="0.0" y="0.0" font-size="12.8" fill="#333" stroke="#333" stroke-width="0.15" textLength="96.5" lengthAdjust="spacingAndGlyphs">Raman shift (cm</text><text x="97.0" y="-5.2" font-size="7.5" fill="#333" stroke="#333" stroke-width="0.09" textLength="6.2" lengthAdjust="spacingAndGlyphs">-1</text><text x="103.8" y="0.0" font-size="12.8" fill="#333" stroke="#333" stroke-width="0.15" textLength="4.6" lengthAdjust="spacingAndGlyphs">)</text></g>
<line x1="524" y1="327.8" x2="800.5" y2="376.6" stroke="#4459a8" stroke-width="1.6"/>
<line x1="524" y1="440.9" x2="800.5" y2="497" stroke="#e8485a" stroke-width="1.3"/>
<rect x="538.8" y="327.6" width="5.2" height="5.2" fill="#2f47a6"/>
<rect x="560.0" y="332.4" width="5.2" height="5.2" fill="#2f47a6"/>
<rect x="584.2" y="336.5" width="5.2" height="5.2" fill="#2f47a6"/>
<rect x="610.2" y="339.8" width="5.2" height="5.2" fill="#2f47a6"/>
<rect x="638.0" y="343.6" width="5.2" height="5.2" fill="#2f47a6"/>
<rect x="671.3" y="349.3" width="5.2" height="5.2" fill="#2f47a6"/>
<rect x="710.9" y="357.8" width="5.2" height="5.2" fill="#2f47a6"/>
<rect x="778.4" y="369.8" width="5.2" height="5.2" fill="#2f47a6"/>
<circle cx="541.4" cy="444.5" r="2.8" fill="#e21b2c"/>
<circle cx="562.6" cy="448.9" r="2.8" fill="#e21b2c"/>
<circle cx="586.8" cy="454.3" r="2.8" fill="#e21b2c"/>
<circle cx="612.8" cy="459.6" r="2.8" fill="#e21b2c"/>
<circle cx="640.6" cy="465.0" r="2.8" fill="#e21b2c"/>
<circle cx="673.9" cy="469.4" r="2.8" fill="#e21b2c"/>
<circle cx="713.5" cy="479.5" r="2.8" fill="#e21b2c"/>
<circle cx="781.0" cy="492.7" r="2.8" fill="#e21b2c"/>
<text x="757.3" y="356.7" font-size="12.5" fill="#333" stroke="#333" stroke-width="0.15" textLength="8.3" lengthAdjust="spacingAndGlyphs">A</text>
<text x="766.4" y="361.8" font-size="7.5" fill="#333" stroke="#333" stroke-width="0.09" textLength="8.5" lengthAdjust="spacingAndGlyphs">1g</text>
<text x="757.2" y="480.1" font-size="12.5" fill="#333" stroke="#333" stroke-width="0.15" textLength="6.2" lengthAdjust="spacingAndGlyphs">E</text>
<text x="763.7" y="484.6" font-size="7.5" fill="#333" stroke="#333" stroke-width="0.09" textLength="9.4" lengthAdjust="spacingAndGlyphs">2g</text>
<text x="773.8" y="474.4" font-size="7.5" fill="#333" stroke="#333" stroke-width="0.09">1</text>
<text x="553.4" y="389.9" font-size="13.2" fill="#333" stroke="#333" stroke-width="0.15" textLength="71.8" lengthAdjust="spacingAndGlyphs">Fitted slope</text><path d="M629.1,385.2 Q630.4,383.2 631.4,385.2 L634.6,391.4 Q635.3,393.4 636.2,392.0" fill="none" stroke="#333" stroke-width="1.20" stroke-linecap="round"/><path d="M635.8,383.8 L629.7,393.2" fill="none" stroke="#333" stroke-width="0.84"/><text x="637.0" y="393.2" font-size="7.2" fill="#333" stroke="#333" stroke-width="0.09" textLength="4.2" lengthAdjust="spacingAndGlyphs">ρ</text><text x="644.9" y="389.9" font-size="13.2" fill="#333" stroke="#333" stroke-width="0.15" textLength="46.4" lengthAdjust="spacingAndGlyphs">= -(10.9</text><path d="M694.6,386.1 L701.5,386.1 M698.0,382.1 L698.0,390.1 M693.8,392.1 L702.3,392.1" stroke="#333" stroke-width="1.00" fill="none"/><text x="705.1" y="389.9" font-size="13.2" fill="#333" stroke="#333" stroke-width="0.15" textLength="43.8" lengthAdjust="spacingAndGlyphs">0.4) cm</text><text x="749.6" y="384.6" font-size="6.8" fill="#333" stroke="#333" stroke-width="0.09" textLength="5.2" lengthAdjust="spacingAndGlyphs">-1</text><text x="755.7" y="389.9" font-size="13.2" fill="#333" stroke="#333" stroke-width="0.15" textLength="30.6" lengthAdjust="spacingAndGlyphs">/mW</text>
<text x="553.4" y="509.4" font-size="13.2" fill="#333" stroke="#333" stroke-width="0.15" textLength="71.2" lengthAdjust="spacingAndGlyphs">Fitted slope</text><path d="M629.2,504.9 Q630.5,502.9 631.6,504.9 L635.0,510.8 Q635.7,512.8 636.6,511.4" fill="none" stroke="#333" stroke-width="1.20" stroke-linecap="round"/><path d="M636.2,503.5 L629.8,512.6" fill="none" stroke="#333" stroke-width="0.84"/><text x="637.0" y="512.6" font-size="7.2" fill="#333" stroke="#333" stroke-width="0.09" textLength="4.2" lengthAdjust="spacingAndGlyphs">ρ</text><text x="644.9" y="509.4" font-size="13.2" fill="#333" stroke="#333" stroke-width="0.15" textLength="45.6" lengthAdjust="spacingAndGlyphs">= -(12.8</text><path d="M694.9,505.6 L702.1,505.6 M698.5,501.6 L698.5,509.6 M694.1,511.6 L702.9,511.6" stroke="#333" stroke-width="1.00" fill="none"/><text x="706.5" y="509.4" font-size="13.2" fill="#333" stroke="#333" stroke-width="0.15" textLength="40.1" lengthAdjust="spacingAndGlyphs">0.2) cm</text><text x="747.6" y="503.9" font-size="6.8" fill="#333" stroke="#333" stroke-width="0.09" textLength="4.8" lengthAdjust="spacingAndGlyphs">-1</text><text x="753.6" y="509.4" font-size="13.2" fill="#333" stroke="#333" stroke-width="0.15" textLength="32.7" lengthAdjust="spacingAndGlyphs">/mW</text>
</svg></body></html>
